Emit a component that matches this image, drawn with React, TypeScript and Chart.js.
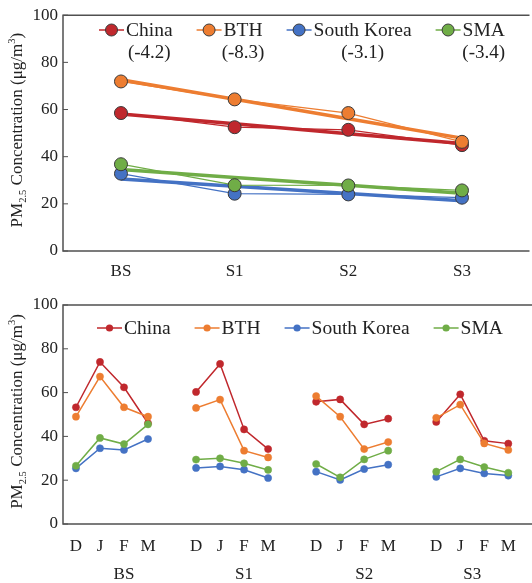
import { useEffect, useRef } from "react";
import { Chart, registerables } from "chart.js";
Chart.register(...registerables);

const FONT = "'Liberation Serif', 'Times New Roman', serif";

const seriesNames = ["China", "BTH", "South Korea", "SMA"];
const seriesColors = ["#C0282D", "#ED7D31", "#4472C4", "#70AD47"];
const trendLabels = ["(-4.2)", "(-8.3)", "(-3.1)", "(-3.4)"];
const periods = ["BS", "S1", "S2", "S3"];
const months = ["D", "J", "F", "M"];
const yTicks = [0, 20, 40, 60, 80, 100];

// Period means (top panel)
const chinaPeriod = [58.5, 52.5, 51.4, 44.9];
const bthPeriod = [71.9, 64.3, 58.5, 46.3];
const koreaPeriod = [32.8, 24.3, 24.0, 22.6];
const smaPeriod = [36.8, 27.9, 27.8, 25.7];

// Monthly means (bottom panel), D J F M for BS, S1, S2, S3
const chinaMonthly = [53.3, 74.0, 62.4, 46.0, 60.3, 73.1, 43.2, 34.2, 55.8, 56.9, 45.5, 48.1, 46.6, 59.2, 38.0, 36.7];
const bthMonthly = [49.0, 67.3, 53.3, 49.0, 53.0, 56.8, 33.5, 30.4, 58.4, 49.0, 34.2, 37.4, 48.5, 54.5, 36.8, 33.8];
const koreaMonthly = [25.4, 34.6, 33.8, 38.8, 25.6, 26.3, 24.8, 21.0, 23.9, 20.1, 25.1, 27.1, 21.5, 25.4, 23.1, 22.1];
const smaMonthly = [26.6, 39.3, 36.5, 45.5, 29.4, 30.0, 27.7, 24.7, 27.4, 21.3, 29.5, 33.5, 23.9, 29.5, 26.0, 23.4];

const periodSeries = [chinaPeriod, bthPeriod, koreaPeriod, smaPeriod];
const monthlySeries = [chinaMonthly, bthMonthly, koreaMonthly, smaMonthly];

function linearFit(vals: number[]) {
  const n = vals.length;
  const xm = (n - 1) / 2;
  const ym = vals.reduce((a, b) => a + b, 0) / n;
  let num = 0, den = 0;
  vals.forEach((v, i) => { num += (i - xm) * (v - ym); den += (i - xm) * (i - xm); });
  const slope = num / den;
  return vals.map((_, i) => ({ x: i, y: ym + slope * (i - xm) }));
}

function drawYTitle(ctx: CanvasRenderingContext2D, cx: number, cy: number, size: number) {
  const parts = [
    { t: "PM", s: 1, dy: 0 },
    { t: "2.5", s: 0.62, dy: 0.22 },
    { t: " Concentration (\u03bcg/m", s: 1, dy: 0 },
    { t: "3", s: 0.62, dy: -0.42 },
    { t: ")", s: 1, dy: 0 },
  ];
  ctx.save();
  ctx.translate(cx, cy);
  ctx.rotate(-Math.PI / 2);
  ctx.fillStyle = "#222";
  ctx.textBaseline = "alphabetic";
  ctx.textAlign = "left";
  const widths = parts.map((p) => { ctx.font = `${size * p.s}px ${FONT}`; return ctx.measureText(p.t).width; });
  const total = widths.reduce((a, b) => a + b, 0);
  let x = -total / 2;
  parts.forEach((p, i) => {
    ctx.font = `${size * p.s}px ${FONT}`;
    ctx.fillText(p.t, x, size * 0.35 + p.dy * size);
    x += widths[i];
  });
  ctx.restore();
}

function drawFrame(chart: any) {
  const { ctx, chartArea } = chart;
  const y = chart.scales.y;
  ctx.save();
  ctx.strokeStyle = "#505050";
  ctx.lineWidth = 1.5;
  ctx.beginPath();
  ctx.moveTo(chartArea.right + 5, chartArea.top);
  ctx.lineTo(chartArea.left, chartArea.top);
  ctx.lineTo(chartArea.left, chartArea.bottom);
  ctx.lineTo(chartArea.right + 5, chartArea.bottom);
  ctx.stroke();
  ctx.lineWidth = 1;
  yTicks.forEach((v) => {
    const py = y.getPixelForValue(v);
    ctx.beginPath();
    ctx.moveTo(chartArea.left, py);
    ctx.lineTo(chartArea.left + 5, py);
    ctx.stroke();
  });
  ctx.restore();
  drawYTitle(ctx, 16, (chartArea.top + chartArea.bottom) / 2 - 3, 17);
}

function drawLegend(ctx: CanvasRenderingContext2D, startX: number, y: number, radius: number, border: string | null, subs: string[] | null) {
  let x = startX;
  ctx.save();
  seriesNames.forEach((name, i) => {
    const c = seriesColors[i];
    ctx.strokeStyle = c;
    ctx.lineWidth = 1.5;
    ctx.beginPath();
    ctx.moveTo(x, y);
    ctx.lineTo(x + 25, y);
    ctx.stroke();
    ctx.beginPath();
    ctx.arc(x + 12.5, y, radius, 0, Math.PI * 2);
    ctx.fillStyle = c;
    ctx.fill();
    if (border) { ctx.strokeStyle = border; ctx.lineWidth = 1; ctx.stroke(); }
    ctx.font = `19.5px ${FONT}`;
    ctx.fillStyle = "#222";
    ctx.textBaseline = "middle";
    ctx.textAlign = "left";
    const tx = x + 27;
    const w = ctx.measureText(name).width;
    ctx.fillText(name, tx, y + 1);
    if (subs) {
      ctx.font = `19px ${FONT}`;
      ctx.textAlign = "center";
      ctx.fillText(subs[i], tx + w / 2, y + 23);
    }
    x = tx + w + 24;
  });
  ctx.restore();
}

const tickFont = { family: FONT, size: 17 };

function yAxis(widthPx: number) {
  return {
    min: 0, max: 100,
    afterFit: (s: any) => { s.width = widthPx; },
    afterBuildTicks: (s: any) => { s.ticks = yTicks.map((v) => ({ value: v })); },
    grid: { display: false, drawTicks: false },
    border: { display: false },
    ticks: { font: tickFont, color: "#222", padding: 5 },
  };
}

function TopChart() {
  const ref = useRef<HTMLCanvasElement>(null);
  useEffect(() => {
    const datasets: any[] = [];
    periodSeries.forEach((vals, i) => {
      datasets.push({
        label: seriesNames[i] + " data",
        data: vals.map((v, k) => ({ x: k, y: v })),
        borderColor: seriesColors[i],
        borderWidth: 1.3,
        pointRadius: 6.5,
        pointBackgroundColor: seriesColors[i],
        pointBorderColor: "#3a3a3a",
        pointBorderWidth: 1,
        order: 4 - i,
      });
    });
    periodSeries.forEach((vals, i) => {
      datasets.push({
        label: seriesNames[i] + " trend",
        data: linearFit(vals),
        borderColor: seriesColors[i],
        borderWidth: 3.5,
        pointRadius: 0,
        order: 14 - i,
      });
    });
    const chart = new Chart(ref.current!, {
      type: "line",
      data: { datasets },
      options: {
        animation: false,
        responsive: false,
        layout: { padding: { top: 12, right: 0, left: 0, bottom: 0 } },
        plugins: { legend: { display: false }, tooltip: { enabled: false } },
        scales: {
          x: {
            type: "linear", min: -0.51, max: 3.55,
            afterFit: (s: any) => { s.height = 34; },
            afterBuildTicks: (s: any) => { s.ticks = periods.map((_, k) => ({ value: k })); },
            grid: { display: false, drawTicks: false },
            border: { display: false },
            ticks: { font: tickFont, color: "#222", padding: 10, maxRotation: 0, autoSkip: false, callback: (v: any) => periods[v] ?? "" },
          },
          y: yAxis(63),
        },
      },
      plugins: [{
        id: "deco",
        afterDraw: (c: any) => {
          drawFrame(c);
          drawLegend(c.ctx, 99, 30, 6, "#3a3a3a", trendLabels);
        },
      }],
    } as any);
    return () => chart.destroy();
  }, []);
  return <canvas ref={ref} width={532} height={285} style={{ display: "block", width: 532, height: 285 }} />;
}

function BottomChart() {
  const ref = useRef<HTMLCanvasElement>(null);
  useEffect(() => {
    const slot = months.length + 1;
    const datasets: any[] = monthlySeries.map((vals, i) => {
      const data: any[] = [];
      periods.forEach((_, g) => {
        months.forEach((_, m) => data.push({ x: g * slot + m, y: vals[g * months.length + m] }));
        if (g < periods.length - 1) data.push({ x: g * slot + months.length, y: null });
      });
      return {
        label: seriesNames[i],
        data,
        borderColor: seriesColors[i],
        borderWidth: 1.5,
        pointRadius: 3.6,
        pointBackgroundColor: seriesColors[i],
        pointBorderColor: seriesColors[i],
        pointBorderWidth: 0.5,
        spanGaps: false,
        order: 4 - i,
      };
    });
    const monthTicks: { value: number; label: string }[] = [];
    periods.forEach((_, g) => months.forEach((mm, m) => monthTicks.push({ value: g * slot + m, label: mm })));
    const chart = new Chart(ref.current!, {
      type: "line",
      data: { datasets },
      options: {
        animation: false,
        responsive: false,
        layout: { padding: { top: 20, right: 0, left: 0, bottom: 0 } },
        plugins: { legend: { display: false }, tooltip: { enabled: false } },
        scales: {
          x: {
            type: "linear", min: -0.54, max: 18.8,
            afterFit: (s: any) => { s.height = 59; },
            afterBuildTicks: (s: any) => { s.ticks = monthTicks.map((t) => ({ value: t.value })); },
            grid: { display: false, drawTicks: false },
            border: { display: false },
            ticks: {
              font: tickFont, color: "#222", padding: 12, maxRotation: 0, autoSkip: false,
              callback: (v: any) => { const t = monthTicks.find((k) => k.value === v); return t ? t.label : ""; },
            },
          },
          y: yAxis(63),
        },
      },
      plugins: [{
        id: "deco",
        afterDraw: (c: any) => {
          drawFrame(c);
          drawLegend(c.ctx, 97, 43, 3.6, null, null);
          const ctx = c.ctx;
          const xs = c.scales.x;
          ctx.save();
          ctx.font = `17px ${FONT}`;
          ctx.fillStyle = "#222";
          ctx.textAlign = "center";
          ctx.textBaseline = "middle";
          periods.forEach((p, g) => {
            const first = g * slot;
            const last = Math.min(g * slot + months.length, (periods.length - 1) * slot + months.length - 1);
            ctx.fillText(p, xs.getPixelForValue((first + last) / 2), 290);
          });
          ctx.restore();
        },
      }],
    } as any);
    return () => chart.destroy();
  }, []);
  return <canvas ref={ref} width={532} height={298} style={{ display: "block", width: 532, height: 298 }} />;
}

export default function App() {
  return (
    <div style={{ position: "absolute", left: 0, top: 0, width: 532, height: 583, background: "#fff" }}>
      <TopChart />
      <BottomChart />
    </div>
  );
}
